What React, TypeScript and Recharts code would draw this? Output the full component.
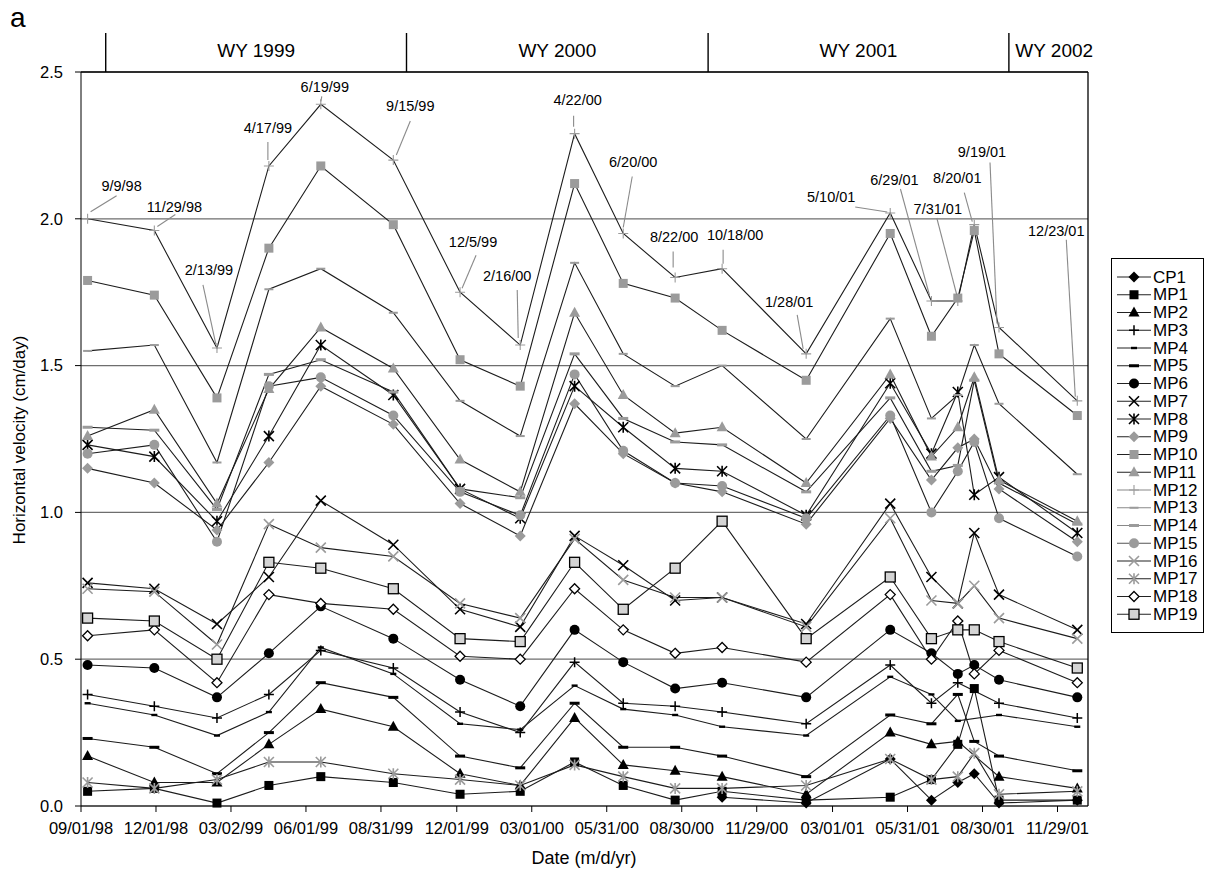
import React from "react"
import { LineChart, Line, XAxis, YAxis, CartesianGrid, ReferenceLine, ReferenceDot } from "recharts"

// Survey dates (m/d/yy) shared by every monument
const sampleDates = [
  "9/9/98", "11/29/98", "2/13/99", "4/17/99", "6/19/99", "9/15/99", "12/5/99", "2/16/00",
  "4/22/00", "6/20/00", "8/22/00", "10/18/00", "1/28/01", "5/10/01", "6/29/01", "7/31/01",
  "8/20/01", "9/19/01", "12/23/01",
]

// Horizontal velocity (cm/day) per monument, one value per survey date
const cp1 = [null, null, null, null, null, null, null, null, null, null, null, 0.03, 0.01, 0.16, 0.02, 0.08, 0.11, 0.01, 0.02]
const mp1 = [0.05, 0.06, 0.01, 0.07, 0.1, 0.08, 0.04, 0.05, 0.15, 0.07, 0.02, 0.05, 0.02, 0.03, 0.09, 0.21, 0.4, 0.02, 0.02]
const mp2 = [0.17, 0.08, 0.08, 0.21, 0.33, 0.27, 0.11, 0.07, 0.3, 0.14, 0.12, 0.1, 0.04, 0.25, 0.21, 0.22, null, 0.1, 0.06]
const mp3 = [0.38, 0.34, 0.3, 0.38, 0.53, 0.47, 0.32, 0.25, 0.49, 0.35, 0.34, 0.32, 0.28, 0.48, 0.35, 0.42, null, 0.35, 0.3]
const mp4 = [0.35, 0.31, 0.24, 0.32, 0.54, 0.45, 0.28, 0.26, 0.41, 0.33, 0.31, 0.27, 0.24, 0.44, 0.38, 0.29, null, 0.31, 0.27]
const mp5 = [0.23, 0.2, 0.11, 0.25, 0.42, 0.37, 0.17, 0.13, 0.35, 0.2, 0.2, 0.17, 0.1, 0.31, 0.28, 0.38, 0.22, 0.17, 0.12]
const mp6 = [0.48, 0.47, 0.37, 0.52, 0.68, 0.57, 0.43, 0.34, 0.6, 0.49, 0.4, 0.42, 0.37, 0.6, 0.52, 0.45, 0.48, 0.43, 0.37]
const mp7 = [0.76, 0.74, 0.62, 0.78, 1.04, 0.89, 0.67, 0.61, 0.92, 0.82, 0.7, 0.71, 0.62, 1.03, 0.78, 0.69, 0.93, 0.72, 0.6]
const mp8 = [1.23, 1.19, 0.97, 1.26, 1.57, 1.4, 1.08, 0.98, 1.43, 1.29, 1.15, 1.14, 0.99, 1.44, 1.2, 1.41, 1.06, 1.12, 0.93]
const mp9 = [1.15, 1.1, 0.94, 1.17, 1.43, 1.3, 1.03, 0.92, 1.37, 1.2, 1.1, 1.07, 0.96, 1.32, 1.11, 1.22, 1.25, 1.08, 0.9]
const mp10 = [1.79, 1.74, 1.39, 1.9, 2.18, 1.98, 1.52, 1.43, 2.12, 1.78, 1.73, 1.62, 1.45, 1.95, 1.6, 1.73, 1.96, 1.54, 1.33]
const mp11 = [1.26, 1.35, 1.03, 1.42, 1.63, 1.49, 1.18, 1.07, 1.68, 1.4, 1.27, 1.29, 1.1, 1.47, 1.19, 1.29, 1.46, 1.11, 0.97]
const mp12 = [2.0, 1.96, 1.56, 2.18, 2.39, 2.2, 1.75, 1.57, 2.29, 1.95, 1.8, 1.83, 1.54, 2.02, 1.72, 1.72, 1.98, 1.63, 1.38]
const mp13 = [1.55, 1.57, 1.17, 1.76, 1.83, 1.68, 1.38, 1.26, 1.85, 1.54, 1.43, 1.5, 1.25, 1.66, 1.32, 1.4, 1.57, 1.37, 1.13]
const mp14 = [1.29, 1.28, 1.01, 1.47, 1.52, 1.41, 1.08, 1.05, 1.54, 1.32, 1.24, 1.23, 1.07, 1.39, 1.14, 1.16, 1.45, 1.1, 0.96]
const mp15 = [1.2, 1.23, 0.9, 1.43, 1.46, 1.33, 1.07, 0.99, 1.47, 1.21, 1.1, 1.09, 0.98, 1.33, 1.0, 1.14, 1.24, 0.98, 0.85]
const mp16 = [0.74, 0.73, 0.55, 0.96, 0.88, 0.85, 0.69, 0.64, 0.91, 0.77, 0.71, 0.71, 0.61, 0.98, 0.7, 0.69, 0.75, 0.64, 0.57]
const mp17 = [0.08, 0.06, 0.09, 0.15, 0.15, 0.11, 0.09, 0.07, 0.14, 0.1, 0.06, 0.06, 0.07, 0.16, 0.09, 0.1, 0.18, 0.04, 0.05]
const mp18 = [0.58, 0.6, 0.42, 0.72, 0.69, 0.67, 0.51, 0.5, 0.74, 0.6, 0.52, 0.54, 0.49, 0.72, 0.5, 0.63, 0.45, 0.53, 0.42]
const mp19 = [0.64, 0.63, 0.5, 0.83, 0.81, 0.74, 0.57, 0.56, 0.83, 0.67, 0.81, 0.97, 0.57, 0.78, 0.57, 0.6, 0.6, 0.56, 0.47]

// Axis tick labels
const xTickLabels = [
  "09/01/98", "12/01/98", "03/02/99", "06/01/99", "08/31/99", "12/01/99", "03/01/00",
  "05/31/00", "08/30/00", "11/29/00", "03/01/01", "05/31/01", "08/30/01", "11/29/01",
]
const yTicks = [0, 0.5, 1.0, 1.5, 2.0, 2.5]

// Water-year header
const waterYearLabels = ["WY 1999", "WY 2000", "WY 2001", "WY 2002"]
const waterYearStarts = ["10/1/98", "10/1/99", "10/1/00", "10/1/01"]

// days counted from 9/1/98
const ORIGIN = Date.UTC(1998, 8, 1)
const toDay = (s: string) => {
  const [m, d, y] = s.split("/").map(Number)
  const year = y < 50 ? 2000 + y : 1900 + y
  return Math.round((Date.UTC(year, m - 1, d) - ORIGIN) / 86400000)
}
const X_MAX = 1222

const BLACK = "#000"
const GRAY = "#9b9b9b"

type Kind =
  | "diamond" | "square" | "triangle" | "plus" | "dashS" | "dashL" | "circle"
  | "x" | "star" | "openDiamond" | "openSquare" | "thinPlus" | "thinDash"

const series: { name: string; values: (number | null)[]; kind: Kind; color: string; legendLine: string }[] = [
  { name: "CP1", values: cp1, kind: "diamond", color: BLACK, legendLine: "#222" },
  { name: "MP1", values: mp1, kind: "square", color: BLACK, legendLine: "#222" },
  { name: "MP2", values: mp2, kind: "triangle", color: BLACK, legendLine: "#222" },
  { name: "MP3", values: mp3, kind: "plus", color: BLACK, legendLine: "#222" },
  { name: "MP4", values: mp4, kind: "dashS", color: BLACK, legendLine: "#222" },
  { name: "MP5", values: mp5, kind: "dashL", color: BLACK, legendLine: "#222" },
  { name: "MP6", values: mp6, kind: "circle", color: BLACK, legendLine: "#222" },
  { name: "MP7", values: mp7, kind: "x", color: BLACK, legendLine: "#222" },
  { name: "MP8", values: mp8, kind: "star", color: BLACK, legendLine: "#222" },
  { name: "MP9", values: mp9, kind: "diamond", color: GRAY, legendLine: "#222" },
  { name: "MP10", values: mp10, kind: "square", color: GRAY, legendLine: "#222" },
  { name: "MP11", values: mp11, kind: "triangle", color: GRAY, legendLine: "#222" },
  { name: "MP12", values: mp12, kind: "thinPlus", color: GRAY, legendLine: "#888" },
  { name: "MP13", values: mp13, kind: "thinDash", color: GRAY, legendLine: "#888" },
  { name: "MP14", values: mp14, kind: "dashL", color: GRAY, legendLine: "#888" },
  { name: "MP15", values: mp15, kind: "circle", color: GRAY, legendLine: "#555" },
  { name: "MP16", values: mp16, kind: "x", color: GRAY, legendLine: "#222" },
  { name: "MP17", values: mp17, kind: "star", color: GRAY, legendLine: "#222" },
  { name: "MP18", values: mp18, kind: "openDiamond", color: BLACK, legendLine: "#222" },
  { name: "MP19", values: mp19, kind: "openSquare", color: BLACK, legendLine: "#222" },
]

const rows = sampleDates.map((date, i) => {
  const row: Record<string, number | null | string> = { day: toDay(date), date }
  series.forEach((s) => (row[s.name] = s.values[i]))
  return row
})

// label offsets (px) and leader line ends relative to each MP12 point
const callouts = [
  { dx: 34, dy: -33, l: [3, -7, 29, -23] },
  { dx: 20, dy: -24, l: [3, -4, 21, -16] },
  { dx: -8, dy: -78, l: [-14, -63, -1, -3] },
  { dx: -1, dy: -38, l: [-1, -24, -1, -6] },
  { dx: 4, dy: -17, l: [1, -8, 0, -3] },
  { dx: 17, dy: -54, l: [17, -39, 3, -5] },
  { dx: 13, dy: -50, l: [16, -37, 2, -4] },
  { dx: -13, dy: -69, l: [-3, -55, -2, -7] },
  { dx: 3, dy: -34, l: [-1, -18, -1, -7] },
  { dx: 10, dy: -71, l: [9, -57, 0, -6] },
  { dx: -1, dy: -41, l: [-2, -26, -2, -10] },
  { dx: 13, dy: -34, l: [1, -19, 1, -5] },
  { dx: -17, dy: -52, l: [-9, -39, -3, -5] },
  { dx: -59, dy: -16, l: [-35, -6, -3, -1] },
  { dx: -37, dy: -121, l: [-31, -112, -2, -6] },
  { dx: -20, dy: -92, l: [-21, -83, -1, -6] },
  { dx: -17, dy: -47, l: [-10, -32, -2, -3] },
  { dx: -17, dy: -175, l: [-9, -165, -2, -4] },
  { dx: -21, dy: -170, l: [-11, -161, -2, -4] },
]

const FONT = "'Liberation Sans', Arial, Helvetica, sans-serif"

function Marker({ kind, color, x, y }: { kind: Kind; color: string; x: number; y: number }) {
  switch (kind) {
    case "diamond":
      return <polygon points={`${x},${y - 5.5} ${x + 5.5},${y} ${x},${y + 5.5} ${x - 5.5},${y}`} fill={color} />
    case "square":
      return <rect x={x - 4.5} y={y - 4.5} width={9} height={9} fill={color} />
    case "triangle":
      return <polygon points={`${x},${y - 6} ${x + 5.5},${y + 4} ${x - 5.5},${y + 4}`} fill={color} />
    case "plus":
      return <path d={`M${x - 5},${y}H${x + 5}M${x},${y - 5}V${y + 5}`} stroke={color} strokeWidth={1.5} />
    case "thinPlus":
      return <path d={`M${x - 5},${y}H${x + 5}M${x},${y - 5}V${y + 5}`} stroke={color} strokeWidth={1.1} />
    case "dashS":
      return <rect x={x - 3} y={y - 1.2} width={6} height={2.4} fill={color} />
    case "thinDash":
      return <rect x={x - 4.5} y={y - 1} width={9} height={2} fill={color} />
    case "dashL":
      return <rect x={x - 5} y={y - 1.5} width={10} height={3} fill={color} />
    case "circle":
      return <circle cx={x} cy={y} r={5} fill={color} />
    case "x":
      return (
        <path
          d={`M${x - 5},${y - 5}L${x + 5},${y + 5}M${x - 5},${y + 5}L${x + 5},${y - 5}`}
          stroke={color}
          strokeWidth={1.6}
        />
      )
    case "star":
      return (
        <path
          d={`M${x - 5},${y - 5}L${x + 5},${y + 5}M${x - 5},${y + 5}L${x + 5},${y - 5}M${x},${y - 5.5}V${y + 5.5}`}
          stroke={color}
          strokeWidth={1.6}
        />
      )
    case "openDiamond":
      return (
        <polygon
          points={`${x},${y - 5} ${x + 5},${y} ${x},${y + 5} ${x - 5},${y}`}
          fill="#fff"
          stroke={BLACK}
          strokeWidth={1.3}
        />
      )
    case "openSquare":
      return <rect x={x - 5} y={y - 5} width={10} height={10} fill="#d4d4d4" stroke={BLACK} strokeWidth={1.3} />
  }
  return null
}

function SeriesLegend() {
  const step = 17.75
  return (
    <div
      style={{
        position: "absolute",
        left: 1111,
        top: 258,
        width: 93,
        height: 375,
        border: "1px solid #000",
        boxSizing: "border-box",
        background: "#fff",
      }}
    >
      <svg width={93} height={375} style={{ position: "absolute", left: -1, top: -1 }}>
        {series.map((s, i) => {
          const y = 19 + i * step
          return (
            <g key={s.name}>
              <line x1={6} x2={40} y1={y} y2={y} stroke={s.legendLine} strokeWidth={1.1} />
              <Marker kind={s.kind} color={s.color} x={23} y={y} />
              <text x={42} y={y} dominantBaseline="central" fontSize={17} fontFamily={FONT} fill="#000">
                {s.name}
              </text>
            </g>
          )
        })}
      </svg>
    </div>
  )
}

export default function App() {
  const xTicks = xTickLabels.map(toDay)
  const wyStarts = waterYearStarts.map(toDay)
  const wyMids = wyStarts.map((d, i) => (d + (i + 1 < wyStarts.length ? wyStarts[i + 1] : X_MAX + 14)) / 2)
  const labelFor = (v: number) => xTickLabels[xTicks.indexOf(v)] ?? ""

  return (
    <div
      style={{
        position: "absolute",
        left: 0,
        top: 0,
        width: 1213,
        height: 870,
        background: "#fff",
        fontFamily: FONT,
      }}
    >
      <div style={{ position: "absolute", left: 10, top: 2, fontSize: 28, fontFamily: FONT }}>a</div>
      <LineChart width={1213} height={870} data={rows} margin={{ top: 72, right: 125, bottom: 24, left: 21 }}>
        <CartesianGrid vertical={false} stroke="#6e6e6e" strokeWidth={1.2} />
        <XAxis
          dataKey="day"
          type="number"
          domain={[0, X_MAX]}
          ticks={xTicks}
          tickFormatter={labelFor}
          interval={0}
          height={40}
          tickSize={6}
          tickMargin={10}
          stroke="#000"
          tick={{ fill: "#000", fontSize: 16.5, fontFamily: FONT }}
          label={{
            content: () => (
              <text x={584} y={858} textAnchor="middle" dominantBaseline="central" fontSize={18} fontFamily={FONT}>
                Date (m/d/yr)
              </text>
            ),
          }}
        />
        <YAxis
          type="number"
          domain={[0, 2.5]}
          ticks={yTicks}
          interval={0}
          width={60}
          tickSize={6}
          tickMargin={12}
          tickFormatter={(v: number) => v.toFixed(1)}
          stroke="#000"
          tick={{ fill: "#000", fontSize: 16.5, fontFamily: FONT }}
          label={{
            content: () => (
              <text
                x={19}
                y={440}
                transform="rotate(-90 19 440)"
                textAnchor="middle"
                dominantBaseline="central"
                fontSize={17}
                fontFamily={FONT}
              >
                Horizontal velocity (cm/day)
              </text>
            ),
          }}
        />
        {/* plot frame: top and right */}
        <ReferenceLine y={2.5} stroke="#000" strokeWidth={1.3} ifOverflow="visible" />
        <ReferenceLine x={X_MAX} stroke="#000" strokeWidth={1.3} ifOverflow="visible" />

        {/* water-year dividers and names above the plot */}
        {wyStarts.map((d) => (
          <ReferenceDot
            key={`wy-${d}`}
            x={d}
            y={2.5}
            ifOverflow="visible"
            shape={(p: any) => <line x1={p.cx} x2={p.cx} y1={p.cy} y2={p.cy - 39} stroke="#000" strokeWidth={1.4} />}
          />
        ))}
        {waterYearLabels.map((label, i) => (
          <ReferenceDot
            key={label}
            x={wyMids[i]}
            y={2.5}
            ifOverflow="visible"
            shape={(p: any) => (
              <text x={p.cx} y={p.cy - 22} textAnchor="middle" dominantBaseline="central" fontSize={19} fontFamily={FONT}>
                {label}
              </text>
            )}
          />
        ))}

        {series.map((s) => (
          <Line
            key={s.name}
            dataKey={s.name}
            name={s.name}
            stroke="#1c1c1c"
            strokeWidth={1.1}
            connectNulls
            isAnimationActive={false}
            activeDot={false}
            dot={(p: any) =>
              p.cx == null || p.cy == null || p.value == null ? (
                <g key={`${s.name}-${p.index}`} />
              ) : (
                <g key={`${s.name}-${p.index}`}>
                  <Marker kind={s.kind} color={s.color} x={p.cx} y={p.cy} />
                </g>
              )
            }
          />
        ))}

        {/* survey-date callouts on the MP12 points */}
        {sampleDates.map((date, i) => {
          const c = callouts[i]
          return (
            <ReferenceDot
              key={`c-${date}`}
              x={toDay(date)}
              y={mp12[i] as number}
              ifOverflow="visible"
              shape={(p: any) => (
                <g>
                  <line
                    x1={p.cx + c.l[0]}
                    y1={p.cy + c.l[1]}
                    x2={p.cx + c.l[2]}
                    y2={p.cy + c.l[3]}
                    stroke="#8a8a8a"
                    strokeWidth={1.1}
                  />
                  <text
                    x={p.cx + c.dx}
                    y={p.cy + c.dy}
                    textAnchor="middle"
                    dominantBaseline="central"
                    fontSize={14.5}
                    fontFamily={FONT}
                    fill="#000"
                  >
                    {date}
                  </text>
                </g>
              )}
            />
          )
        })}
      </LineChart>
      <SeriesLegend />
    </div>
  )
}
